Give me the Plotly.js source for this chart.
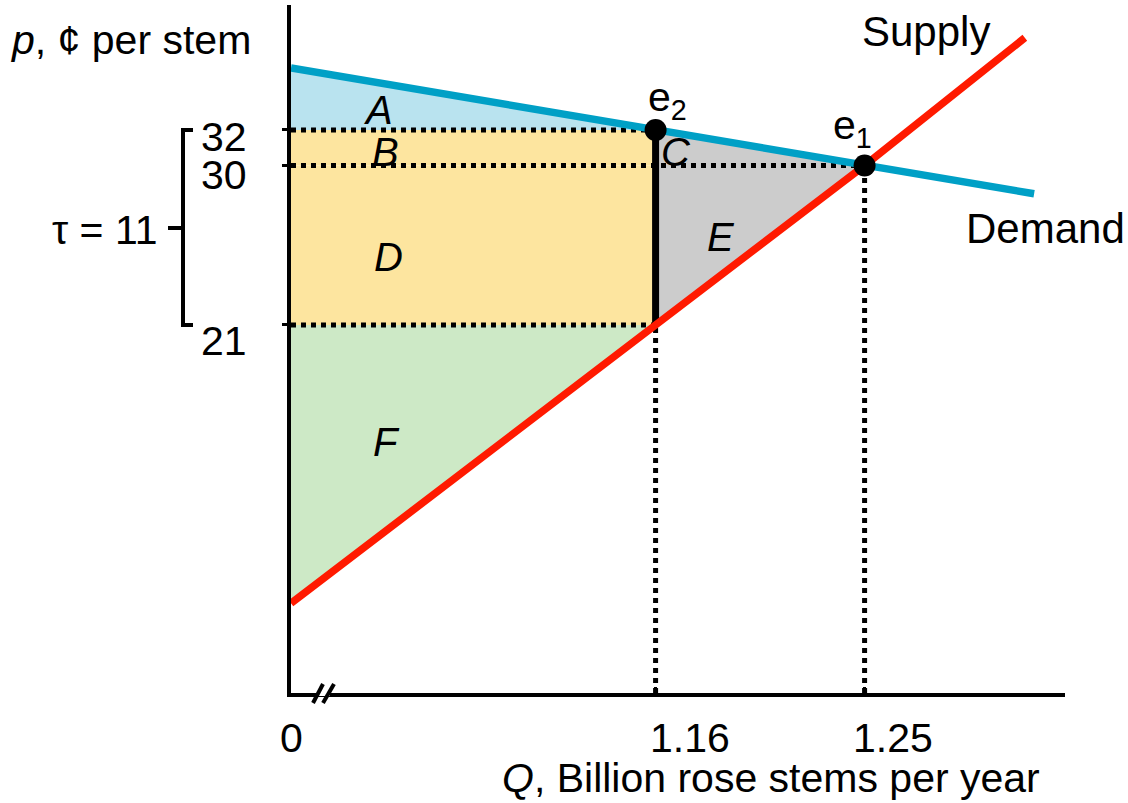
<!DOCTYPE html>
<html><head><meta charset="utf-8">
<script src="https://cdn.plot.ly/plotly-3.0.1.min.js"></script>
<style>html,body{margin:0;padding:0;background:#fff}#chart{width:1128px;height:803px}</style>
</head><body><div id="chart"></div>
<script>
// Quantities (billion stems/year); axis starts at a broken origin labelled 0
const qOrigin = 1.003;
const qTax = 1.16;     // e2 quantity
const qEq = 1.25;      // e1 quantity
// Prices (cents per stem)
const pBuyer = 32;     // price paid by consumers with tax
const pEq = 30;        // pre-tax equilibrium
const pSeller = 21;    // price received by sellers
const tau = 11;
// Curve points
const supplyQ = [1.003, 1.16, 1.25, 1.319];
const supplyP = [5.3, 21, 30, 37.2];
const demandQ = [1.003, 1.16, 1.25, 1.323];
const demandP = [35.5, 32, 30, 28.4];
const xTickVals = [1.16, 1.25];
const xTickText = ["1.16", "1.25"];
const yTickVals = [32, 30, 21];

const FONT = "Liberation Sans, Arial, sans-serif";
const W = 1128, H = 803, L = 291, R = 63, T = 5, B = 110;
const pw = W - L - R, ph = H - T - B;
const px = x => (x - L) / pw;
const py = y => (H - B - y) / ph;

const traces = [];
function poly(xs, ys, color) {
  traces.push({x: xs, y: ys, type: 'scatter', mode: 'lines', fill: 'toself',
    fillcolor: color, line: {width: 0}, hoverinfo: 'skip', showlegend: false});
}
// A
poly([qOrigin, qTax, qOrigin], [demandP[0], pBuyer, pBuyer], '#b9e3ef');
// B
poly([qOrigin, qTax, qTax, qOrigin], [pEq, pEq, pBuyer, pBuyer], '#fde59f');
// D
poly([qOrigin, qTax, qTax, qOrigin], [pSeller, pSeller, pEq, pEq], '#fde59f');
// C + E
poly([qTax, qEq, qTax], [pBuyer, pEq, pSeller], '#cccccc');
// F
poly([qOrigin, qTax, qOrigin], [pSeller, pSeller, supplyP[0]], '#cde9c6');

function dotted(xs, ys) {
  traces.push({x: xs, y: ys, type: 'scatter', mode: 'lines',
    line: {color: '#000', width: 5, dash: '5px,5px'}, hoverinfo: 'skip', showlegend: false});
}
dotted([qOrigin, qTax], [pBuyer, pBuyer]);
dotted([qOrigin, qEq], [pEq, pEq]);
dotted([qOrigin, qTax], [pSeller, pSeller]);
dotted([qTax, qTax], [0.24, pSeller]);
dotted([qEq, qEq], [0.24, pEq]);

// tax wedge
traces.push({x: [qTax, qTax], y: [pSeller, pBuyer], type: 'scatter', mode: 'lines',
  line: {color: '#000', width: 7}, hoverinfo: 'skip', showlegend: false});
// Demand
traces.push({x: demandQ, y: demandP, type: 'scatter', mode: 'lines',
  line: {color: '#00a0c6', width: 7.5}, showlegend: false, cliponaxis: false});
// Supply
traces.push({x: supplyQ, y: supplyP, type: 'scatter', mode: 'lines',
  line: {color: '#ff1a00', width: 7.5}, showlegend: false, cliponaxis: false});
// Equilibria
traces.push({x: [qTax, qEq], y: [pBuyer, pEq], type: 'scatter', mode: 'markers',
  marker: {color: '#000', size: 22}, showlegend: false, cliponaxis: false});

const ann = [];
function txt(text, x, y, size, opts) {
  ann.push(Object.assign({text: text, xref: 'paper', yref: 'paper', x: px(x), y: py(y),
    showarrow: false, font: {family: FONT, size: size, color: '#000'},
    xanchor: 'center', yanchor: 'middle'}, opts || {}));
}
txt('<i>A</i>', 378, 110, 40);
txt('<i>B</i>', 385, 152, 40);
txt('<i>C</i>', 676, 152, 40);
txt('<i>D</i>', 388, 257, 40);
txt('<i>E</i>', 721, 237, 40);
txt('<i>F</i>', 386, 442, 40);
txt('e<sub>2</sub>', 667, 100, 41);
txt('e<sub>1</sub>', 852, 128, 41);
txt('Supply', 926, 32, 42);
txt('Demand', 1045, 228, 42);
txt('32', 249, 137, 41, {xanchor: 'right'});
txt('30', 249, 175, 41, {xanchor: 'right'});
txt('21', 249, 341, 41, {xanchor: 'right'});
txt('τ = 11', 159, 230, 41, {xanchor: 'right'});
txt('0', 291, 738, 41);
txt(xTickText[0], 690, 738, 41);
txt(xTickText[1], 893, 738, 41);
txt('<i>Q</i>, Billion rose stems per year', 1042, 803, 41, {xanchor: 'right', yanchor: 'bottom'});
txt('<i>p</i>, ¢ per stem', 8, 40, 41, {xanchor: 'left'});

const shapes = [];
function seg(x0, y0, x1, y1, w, c) {
  shapes.push({type: 'line', xref: 'paper', yref: 'paper', x0: px(x0), y0: py(y0),
    x1: px(x1), y1: py(y1), line: {color: c || '#000', width: w}});
}
// bracket for tau
seg(183, 128, 183, 327, 4);
seg(181, 130, 193, 130, 4);
seg(181, 325, 193, 325, 4);
seg(168, 228, 183, 228, 4);
// axis break
seg(318, 693, 330, 693, 6, '#fff');
seg(313, 703, 323, 684, 4);
seg(323, 703, 334, 684, 4);

const layout = {
  width: W, height: H,
  margin: {l: L, r: R, t: T, b: B},
  paper_bgcolor: '#fff', plot_bgcolor: '#fff',
  font: {family: FONT, size: 38, color: '#000'},
  xaxis: {range: [1.003, 1.3363], showgrid: false, zeroline: false,
    showline: true, linecolor: '#000', linewidth: 4,
    tickmode: 'array', tickvals: xTickVals, ticktext: xTickText, showticklabels: false,
    ticks: 'inside', ticklen: 6, tickwidth: 3, tickcolor: '#000'},
  yaxis: {range: [0.24, 39.05], showgrid: false, zeroline: false,
    showline: true, linecolor: '#000', linewidth: 4,
    tickmode: 'array', tickvals: yTickVals, showticklabels: false,
    ticks: 'outside', ticklen: 5, tickwidth: 3, tickcolor: '#000'},
  annotations: ann,
  shapes: shapes,
  showlegend: false
};
Plotly.newPlot('chart', traces, layout, {staticPlot: true});
</script></body></html>
